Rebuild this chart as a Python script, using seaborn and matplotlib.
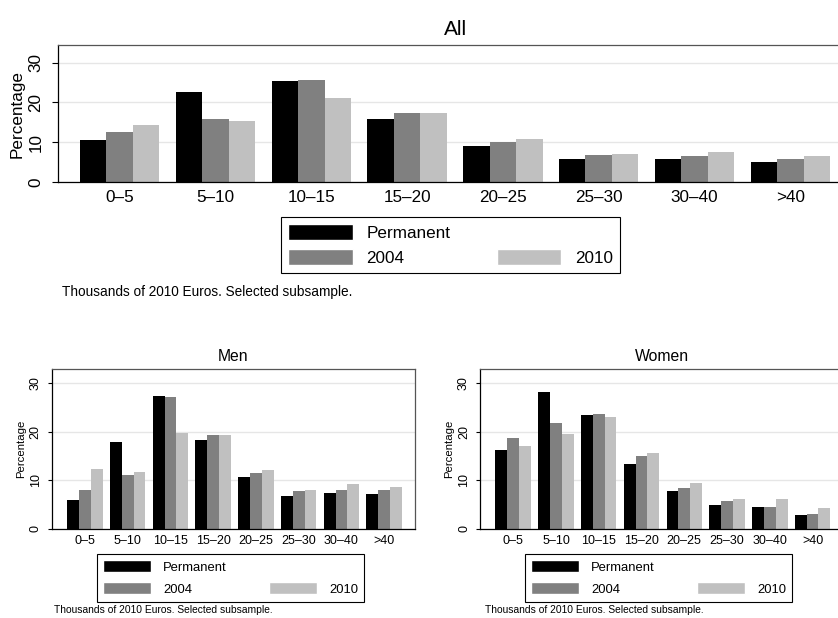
import matplotlib
matplotlib.use("Agg")
import matplotlib.pyplot as plt
from matplotlib.patches import Patch
import seaborn as sns
import pandas as pd

categories = ["0–5", "5–10", "10–15", "15–20", "20–25", "25–30", "30–40", ">40"]
series_names = ["Permanent", "2004", "2010"]

all_permanent = [10.5, 22.55, 25.4, 15.95, 9.2, 5.85, 5.9, 5.2]
all_2004 = [12.7, 15.8, 25.55, 17.3, 10.1, 6.9, 6.5, 5.75]
all_2010 = [14.4, 15.3, 21.1, 17.45, 10.8, 7.1, 7.7, 6.6]

men_permanent = [5.9, 17.8, 27.3, 18.2, 10.7, 6.7, 7.25, 7.1]
men_2004 = [8.0, 11.0, 27.05, 19.3, 11.5, 7.8, 8.0, 7.95]
men_2010 = [12.3, 11.7, 19.7, 19.25, 12.05, 7.95, 9.2, 8.6]

women_permanent = [16.2, 28.15, 23.35, 13.4, 7.75, 4.9, 4.5, 2.9]
women_2004 = [18.7, 21.85, 23.6, 14.9, 8.3, 5.8, 4.5, 3.1]
women_2010 = [17.0, 19.45, 22.9, 15.55, 9.4, 6.15, 6.15, 4.25]

y_ticks = [0, 10, 20, 30]
note_text = "Thousands of 2010 Euros. Selected subsample."

colors = ["#000000", "#808080", "#c0c0c0"]

sns.set_theme(style="white")
plt.rcParams["font.family"] = ["Liberation Sans", "DejaVu Sans"]
plt.rcParams["text.color"] = "black"
plt.rcParams["axes.labelcolor"] = "black"

W, H = 838, 618
fig = plt.figure(figsize=(W / 100, H / 100), dpi=100)


def px_axes(left, right, top, bottom):
    return fig.add_axes([left / W, 1 - bottom / H, (right - left) / W, (bottom - top) / H])


def make_df(p, a, b):
    rows = []
    for name, vals in zip(series_names, [p, a, b]):
        for c, v in zip(categories, vals):
            rows.append({"cat": c, "series": name, "val": v})
    return pd.DataFrame(rows)


def draw(ax, df, title, xlim, ylim, tick_fs, title_fs, title_pad, ylab_fs,
         ytick_len, ytick_pad, xtick_pad, labelpad):
    sns.barplot(data=df, x="cat", y="val", hue="series", order=categories,
                hue_order=series_names, palette=colors, saturation=1,
                width=0.83, errorbar=None, legend=False, linewidth=0, ax=ax)
    ax.set_xlim(*xlim)
    ax.set_ylim(*ylim)
    ax.set_yticks(y_ticks)
    ax.set_xlabel("")
    ax.set_ylabel("Percentage", fontsize=ylab_fs, labelpad=labelpad, color="black")
    ax.set_title(title, fontsize=title_fs, pad=title_pad, color="black")
    ax.yaxis.grid(True, color="#e6e6e6", linewidth=1.0)
    ax.set_axisbelow(True)
    ax.tick_params(axis="x", length=0, pad=xtick_pad, labelsize=tick_fs, colors="black")
    ax.tick_params(axis="y", length=ytick_len, width=0.8, pad=ytick_pad,
                   labelsize=tick_fs, left=True, colors="black", labelrotation=90)
    for lab in ax.get_yticklabels():
        lab.set_va("center")
    for s in ["left", "bottom"]:
        ax.spines[s].set_color("black")
        ax.spines[s].set_linewidth(0.9)
    for s in ["top", "right"]:
        ax.spines[s].set_color("#555555")
        ax.spines[s].set_linewidth(0.9)


def add_legend(left_px, top_px, fs, hl, hh, htp, ls, cs, bp):
    handles = [Patch(facecolor=colors[0]), Patch(facecolor=colors[1]),
               Patch(facecolor="none", edgecolor="none"), Patch(facecolor=colors[2])]
    labels = [series_names[0], series_names[1], "", series_names[2]]
    leg = fig.legend(handles, labels, loc="upper left",
                     bbox_to_anchor=(left_px / W, 1 - top_px / H),
                     bbox_transform=fig.transFigure, ncol=2, frameon=True,
                     fancybox=False, shadow=False, borderaxespad=0, borderpad=bp,
                     handlelength=hl, handleheight=hh, handletextpad=htp,
                     labelspacing=ls, columnspacing=cs, fontsize=fs)
    fr = leg.get_frame()
    fr.set_edgecolor("black")
    fr.set_linewidth(0.8)
    fr.set_facecolor("white")
    fr.set_alpha(1)
    for t in leg.get_texts():
        t.set_color("black")


# Top panel: All
ax_all = px_axes(57.7, 852.6, 45, 182.3)
draw(ax_all, make_df(all_permanent, all_2004, all_2010), "All",
     (-0.647, 7.65), (0, 34.4), 12.3, 15, 7.2, 12.3, 4.3, 6.0, 5.5, 2.5)
add_legend(281, 217, 12.3, 3.8, 1.09, 0.8, 0.49, 2.7, 0.4)
fig.text(62 / W, 1 - 292 / H, note_text, fontsize=9.8, va="center", ha="left", color="black")

# Bottom left: Men
ax_men = px_axes(52, 415, 369.3, 528.7)
draw(ax_men, make_df(men_permanent, men_2004, men_2010), "Men",
     (-0.77, 7.72), (0, 32.8), 9, 11.3, 5.8, 8.2, 2.9, 4.5, 4.5, 2.5)
add_legend(96.7, 554, 9.4, 3.7, 1.09, 0.94, 0.64, 3.2, 0.46)
fig.text(54 / W, 1 - 610 / H, note_text, fontsize=7.4, va="center", ha="left", color="black")

# Bottom right: Women
ax_women = px_axes(480.3, 843.3, 369.3, 528.7)
draw(ax_women, make_df(women_permanent, women_2004, women_2010), "Women",
     (-0.77, 7.72), (0, 32.8), 9, 11.3, 5.8, 8.2, 2.9, 4.5, 4.5, 2.5)
add_legend(524.7, 554, 9.4, 3.7, 1.09, 0.94, 0.64, 3.2, 0.46)
fig.text(484.7 / W, 1 - 610 / H, note_text, fontsize=7.4, va="center", ha="left", color="black")

fig.savefig("out.png", dpi=100, facecolor="white")
